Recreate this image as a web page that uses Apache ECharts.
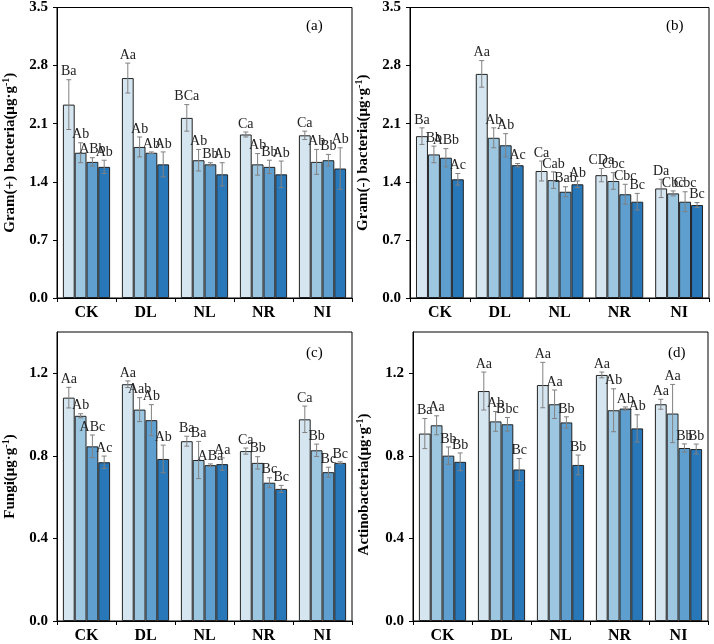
<!DOCTYPE html>
<html>
<head>
<meta charset="utf-8">
<style>html,body{margin:0;padding:0;background:#fff}#chart{width:714px;height:644px}</style>
<script src="https://cdn.jsdelivr.net/npm/echarts@6/dist/echarts.min.js"></script>
</head>
<body>
<div id="chart"></div>
<script>
var categories = ['CK', 'DL', 'NL', 'NR', 'NI'];
var seriesNames = ['S1', 'S2', 'S3', 'S4'];
var barColors = ['#d6e6f1', '#9dc6e0', '#5e9fcf', '#2877b8'];

var ticksAB = [0, 0.7, 1.4, 2.1, 2.8, 3.5];
var ticksCD = [0, 0.4, 0.8, 1.2];

// Panel (a) Gram(+) bacteria: rows = series S1..S4, columns = categories
var gramPosVals = [
  [2.33, 2.65, 2.17, 1.97, 1.96],
  [1.75, 1.82, 1.66, 1.61, 1.64],
  [1.64, 1.75, 1.61, 1.58, 1.66],
  [1.58, 1.61, 1.49, 1.49, 1.56]
];
var gramPosErr = [
  [0.30, 0.18, 0.16, 0.03, 0.05],
  [0.12, 0.12, 0.13, 0.13, 0.15],
  [0.05, 0.01, 0.02, 0.08, 0.07],
  [0.08, 0.15, 0.14, 0.16, 0.25]
];
var gramPosLbl = [
  ['Ba', 'Aa', 'BCa', 'Ca', 'Ca'],
  ['Ab', 'Ab', 'Ab', 'Ab', 'Ab'],
  ['ABb', 'Ab', 'Bb', 'Bb', 'Bb'],
  ['Ab', 'Ab', 'Ab', 'Ab', 'Ab']
];

// Panel (b) Gram(-) bacteria
var gramNegVals = [
  [1.95, 2.70, 1.53, 1.48, 1.32],
  [1.73, 1.93, 1.42, 1.41, 1.26],
  [1.69, 1.84, 1.28, 1.25, 1.16],
  [1.43, 1.60, 1.37, 1.16, 1.12]
];
var gramNegErr = [
  [0.10, 0.16, 0.12, 0.08, 0.11],
  [0.10, 0.12, 0.10, 0.10, 0.03],
  [0.11, 0.14, 0.06, 0.12, 0.12],
  [0.07, 0.02, 0.04, 0.10, 0.03]
];
var gramNegLbl = [
  ['Ba', 'Aa', 'Ca', 'CDa', 'Da'],
  ['Bb', 'Ab', 'Cab', 'Cbc', 'Cbc'],
  ['ABb', 'Ab', 'Bab', 'Cbc', 'Cbc'],
  ['Ac', 'Ac', 'Ab', 'Bc', 'Bc']
];

// Panel (c) Fungi
var fungiVals = [
  [1.082, 1.147, 0.871, 0.823, 0.977],
  [0.994, 1.024, 0.780, 0.766, 0.827],
  [0.846, 0.973, 0.755, 0.670, 0.721],
  [0.769, 0.785, 0.760, 0.640, 0.766]
];
var fungiErr = [
  [0.050, 0.016, 0.024, 0.015, 0.064],
  [0.010, 0.058, 0.090, 0.030, 0.030],
  [0.055, 0.075, 0.006, 0.024, 0.024],
  [0.030, 0.067, 0.030, 0.017, 0.005]
];
var fungiLbl = [
  ['Aa', 'Aa', 'Ba', 'Ca', 'Ca'],
  ['Ab', 'Aab', 'Ba', 'Bb', 'Bb'],
  ['ABc', 'Ab', 'ABa', 'Bc', 'Bc'],
  ['Ac', 'Ab', 'Aa', 'Bc', 'Bc']
];

// Panel (d) Actinobacteria
var actinoVals = [
  [0.908, 1.114, 1.143, 1.192, 1.050],
  [0.948, 0.967, 1.050, 1.021, 1.005],
  [0.801, 0.953, 0.962, 1.029, 0.838],
  [0.771, 0.734, 0.756, 0.933, 0.833]
];
var actinoErr = [
  [0.073, 0.092, 0.110, 0.014, 0.024],
  [0.046, 0.048, 0.069, 0.104, 0.141],
  [0.042, 0.033, 0.027, 0.008, 0.020],
  [0.043, 0.053, 0.048, 0.066, 0.024]
];
var actinoLbl = [
  ['Ba', 'Aa', 'Aa', 'Aa', 'Aa'],
  ['Aa', 'Ab', 'Aa', 'Ab', 'Aa'],
  ['Bb', 'Bbc', 'Bb', 'Ab', 'Bb'],
  ['Bb', 'Bc', 'Bb', 'Ab', 'Bb']
];

var panels = [
  {vals: gramPosVals, err: gramPosErr, lbl: gramPosLbl, name: 'Gram(+) bacteria(μg·g{sup|-1})', tag: '(a)', max: 3.5, ticks: ticksAB,
   grid: {left: 52, top: 7, width: 300, height: 291}, tagPos: [316, 28], nameGap: 38, namePad: [0, 0, 0, 0]},
  {vals: gramNegVals, err: gramNegErr, lbl: gramNegLbl, name: 'Gram(-) bacteria(μg·g{sup|-1})', tag: '(b)', max: 3.5, ticks: ticksAB,
   grid: {left: 410, top: 7, width: 299, height: 291}, tagPos: [676, 28], nameGap: 38, namePad: [0, 0, 0, 0]},
  {vals: fungiVals, err: fungiErr, lbl: fungiLbl, name: 'Fungi(μg·g{sup|-1})', tag: '(c)', max: 1.4, ticks: ticksCD,
   grid: {left: 52, top: 332, width: 300, height: 291}, tagPos: [316, 355], nameGap: 38, namePad: [0, 0, 0, 0]},
  {vals: actinoVals, err: actinoErr, lbl: actinoLbl, name: 'Actinobacteria(μg·g{sup|-1})', tag: '(d)', max: 1.4, ticks: ticksCD,
   grid: {left: 413, top: 332, width: 295, height: 291}, tagPos: [678, 355], nameGap: 40, namePad: [0, 16, 0, 0]}
];

var serif = 'Liberation Serif';
var grids = [], xAxes = [], yAxes = [], series = [], graphics = [];

panels.forEach(function (p, pi) {
  grids.push(Object.assign({show: true, borderColor: '#000', borderWidth: 1, backgroundColor: 'transparent'}, p.grid));
  xAxes.push({
    type: 'category', gridIndex: pi, data: categories,
    axisLine: {lineStyle: {color: '#000', width: 1}},
    axisTick: {show: true, inside: false, length: 4, alignWithLabel: false, lineStyle: {color: '#000'}},
    axisLabel: {color: '#000', fontFamily: serif, fontWeight: 'bold', fontSize: 16, margin: 7}
  });
  yAxes.push({
    type: 'value', gridIndex: pi, min: 0, max: p.max,
    splitLine: {show: false},
    axisLine: {show: true, lineStyle: {color: '#000', width: 1}},
    axisTick: {show: true, length: 4, lineStyle: {color: '#000'}, customValues: p.ticks},
    axisLabel: {color: '#000', fontFamily: serif, fontWeight: 'bold', fontSize: 15, margin: 9,
      customValues: p.ticks, formatter: function (v) { return v.toFixed(1); }},
    name: p.name, nameLocation: 'middle', nameGap: p.nameGap, nameRotate: 90,
    nameTextStyle: {color: '#000', fontFamily: serif, fontWeight: 'bold', fontSize: 15, padding: p.namePad,
      rich: {sup: {fontFamily: serif, fontWeight: 'bold', fontSize: 10, verticalAlign: 'top', padding: [0, 0, 8, 0]}}}
  });
  for (var s = 0; s < 4; s++) {
    series.push({
      type: 'bar', xAxisIndex: pi, yAxisIndex: pi, name: seriesNames[s],
      data: p.vals[s], barGap: '0%', barCategoryGap: '20%',
      itemStyle: {color: barColors[s], borderColor: '#222', borderWidth: 1},
      z: 2
    });
  }
  var errData = [];
  for (var s2 = 0; s2 < 4; s2++) {
    for (var c = 0; c < categories.length; c++) {
      errData.push([c, s2, p.vals[s2][c], p.err[s2][c], p.lbl[s2][c]]);
    }
  }
  series.push({
    type: 'custom', xAxisIndex: pi, yAxisIndex: pi, data: errData, clip: false, z: 5,
    encode: {x: 0, y: 2},
    renderItem: function (params, api) {
      var cat = api.value(0), si = api.value(1), v = api.value(2), e = api.value(3);
      var lbl = errData[params.dataIndex][4];
      var catW = api.size([1, 0])[0];
      var bw = catW * 0.8 / 4;
      var cx = api.coord([cat, v])[0] + (si - 1.5) * bw;
      var yt = api.coord([cat, v + e])[1];
      var yb = api.coord([cat, v - e])[1];
      var cap = 2.5;
      var st = {stroke: '#808080', lineWidth: 1};
      return {type: 'group', children: [
        {type: 'line', shape: {x1: cx, y1: yt, x2: cx, y2: yb}, style: st},
        {type: 'line', shape: {x1: cx - cap, y1: yt, x2: cx + cap, y2: yt}, style: st},
        {type: 'line', shape: {x1: cx - cap, y1: yb, x2: cx + cap, y2: yb}, style: st},
        {type: 'text', x: cx, y: yt - 1, style: {text: lbl, fill: '#222', font: '14px "Liberation Serif"', align: 'center', verticalAlign: 'bottom'}}
      ]};
    }
  });
  graphics.push({type: 'text', left: p.tagPos[0] - 10, top: p.tagPos[1] - 9,
    style: {text: p.tag, fill: '#000', font: '15px "Liberation Serif"'}});
});

var chart = echarts.init(document.getElementById('chart'), null, {renderer: 'canvas'});
chart.setOption({
  animation: false,
  backgroundColor: '#fff',
  grid: grids, xAxis: xAxes, yAxis: yAxes, series: series, graphic: graphics
});
</script>
</body>
</html>
